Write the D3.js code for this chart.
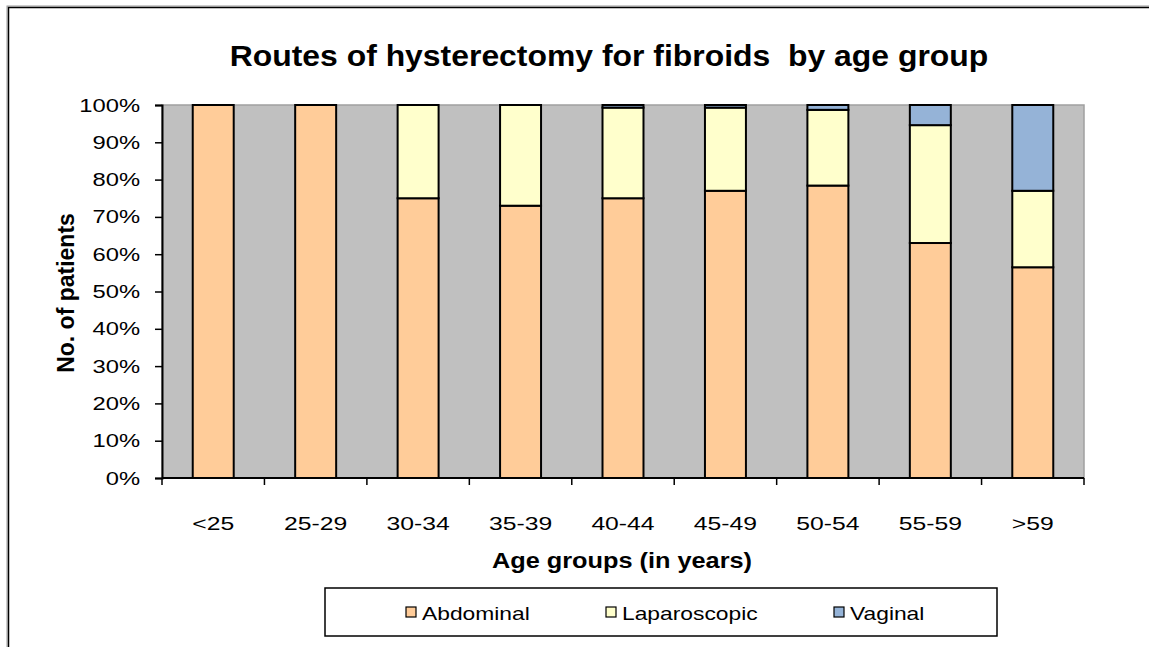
<!DOCTYPE html>
<html>
<head>
<meta charset="utf-8">
<script src="https://cdn.jsdelivr.net/npm/d3@7"></script>
<style>
  html, body { margin: 0; padding: 0; background: #fff; }
  svg { display: block; font-family: "Liberation Sans", Arial, sans-serif; }
</style>
</head>
<body>
<svg id="chart" width="1149" height="647"></svg>
<script>
// Age groups and share of each hysterectomy route (percent of patients)
const categories = ["<25", "25-29", "30-34", "35-39", "40-44", "45-49", "50-54", "55-59", ">59"];
const abdominal    = [100, 100, 75, 73, 75, 77, 78.4, 63, 56.5];
const laparoscopic = [0, 0, 25, 27, 24.3, 22.3, 20.3, 31.6, 20.5];
const vaginal      = [0, 0, 0, 0, 0.7, 0.7, 1.3, 5.4, 23];
const seriesNames  = ["Abdominal", "Laparoscopic", "Vaginal"];
const seriesColors = ["#FFCC99", "#FFFFCC", "#95B3D7"];
const yTicks = [0, 10, 20, 30, 40, 50, 60, 70, 80, 90, 100];

const svg = d3.select("#chart");
const plot = { left: 162, top: 105, right: 1084, bottom: 478 };

// Widen glyphs horizontally by a fixed factor (text is drawn slightly wide)
function widen(sel, factor) {
  sel.each(function () {
    const w = this.getComputedTextLength();
    d3.select(this).attr("textLength", w * factor).attr("lengthAdjust", "spacingAndGlyphs");
  });
}

// Outer chart frame (only left and top edges fall inside the view)
svg.append("rect").attr("x", 7).attr("y", 6).attr("width", 1200).attr("height", 700)
  .attr("fill", "none").attr("stroke", "#9a9a9a").attr("stroke-width", 1);
svg.append("rect").attr("x", 8.5).attr("y", 7.5).attr("width", 1200).attr("height", 700)
  .attr("fill", "none").attr("stroke", "#000").attr("stroke-width", 1.5);

const x = d3.scaleBand().domain(categories)
  .range([plot.left, plot.right]).paddingInner(0.6).paddingOuter(0.3);
const y = d3.scaleLinear().domain([0, 100]).range([plot.bottom, plot.top]);

// Plot area background
svg.append("rect")
  .attr("x", plot.left).attr("y", plot.top)
  .attr("width", plot.right - plot.left).attr("height", plot.bottom - plot.top)
  .attr("fill", "#C0C0C0").attr("stroke", "#a0a0a0").attr("stroke-width", 1.5);

// Stacked bars
const rows = categories.map((c, i) => ({
  cat: c, Abdominal: abdominal[i], Laparoscopic: laparoscopic[i], Vaginal: vaginal[i]
}));
const stacked = d3.stack().keys(seriesNames)(rows);
svg.append("g").selectAll("g").data(stacked).join("g")
  .attr("fill", (d, i) => seriesColors[i])
  .selectAll("rect").data(d => d.filter(s => s[1] - s[0] > 0)).join("rect")
  .attr("x", d => x(d.data.cat))
  .attr("width", x.bandwidth())
  .attr("y", d => y(d[1]))
  .attr("height", d => y(d[0]) - y(d[1]))
  .attr("stroke", "#000").attr("stroke-width", 2);

// Y axis
const yAxis = svg.append("g").attr("transform", `translate(${plot.left},0)`)
  .call(d3.axisLeft(y).tickValues(yTicks).tickFormat(d => d + "%").tickSize(7).tickPadding(15));
yAxis.select(".domain").attr("stroke", "#000").attr("stroke-width", 2);
yAxis.selectAll(".tick line").attr("stroke", "#000").attr("stroke-width", 1.5);
yAxis.selectAll("text").attr("font-size", 19).attr("fill", "#000")
  .attr("font-family", "Liberation Sans, Arial, sans-serif");
widen(yAxis.selectAll("text"), 1.25);

// X axis: ticks sit on category boundaries
const xAxisG = svg.append("g").attr("transform", `translate(0,${plot.bottom})`);
xAxisG.append("line").attr("x1", plot.left).attr("x2", plot.right)
  .attr("stroke", "#000").attr("stroke-width", 2);
const step = x.step();
const bounds = d3.range(categories.length + 1).map(i => plot.left + i * step);
xAxisG.selectAll("line.tk").data(bounds).join("line").attr("class", "tk")
  .attr("x1", d => d).attr("x2", d => d).attr("y1", 0).attr("y2", 7)
  .attr("stroke", "#000").attr("stroke-width", 1.5);
const xLabels = xAxisG.selectAll("text").data(categories).join("text")
  .attr("x", d => x(d) + x.bandwidth() / 2).attr("y", 52)
  .attr("text-anchor", "middle").attr("font-size", 19).attr("fill", "#000")
  .text(d => d);
widen(xLabels, 1.3);

// Titles
const title = svg.append("text").attr("x", 609).attr("y", 66).attr("text-anchor", "middle")
  .attr("font-size", 29).attr("font-weight", "bold")
  .style("white-space", "pre")
  .text("Routes of hysterectomy for fibroids  by age group");
widen(title, 1.1);
const xTitle = svg.append("text").attr("x", 622).attr("y", 568).attr("text-anchor", "middle")
  .attr("font-size", 22).attr("font-weight", "bold").text("Age groups (in years)");
widen(xTitle, 1.15);
svg.append("text").attr("transform", "translate(74,293) rotate(-90)")
  .attr("text-anchor", "middle").attr("font-size", 23).attr("font-weight", "bold")
  .text("No. of patients");

// Legend
const legend = svg.append("g");
legend.append("rect").attr("x", 325).attr("y", 588).attr("width", 672).attr("height", 48)
  .attr("fill", "#fff").attr("stroke", "#000").attr("stroke-width", 1.5);
const legendX = [406, 606, 834];
seriesNames.forEach((name, i) => {
  legend.append("rect").attr("x", legendX[i]).attr("y", 607).attr("width", 10).attr("height", 10)
    .attr("fill", seriesColors[i]).attr("stroke", "#000").attr("stroke-width", 1.2);
  const t = legend.append("text").attr("x", legendX[i] + 16).attr("y", 620)
    .attr("font-size", 19).text(name);
  widen(t, 1.2);
});
</script>
</body>
</html>
